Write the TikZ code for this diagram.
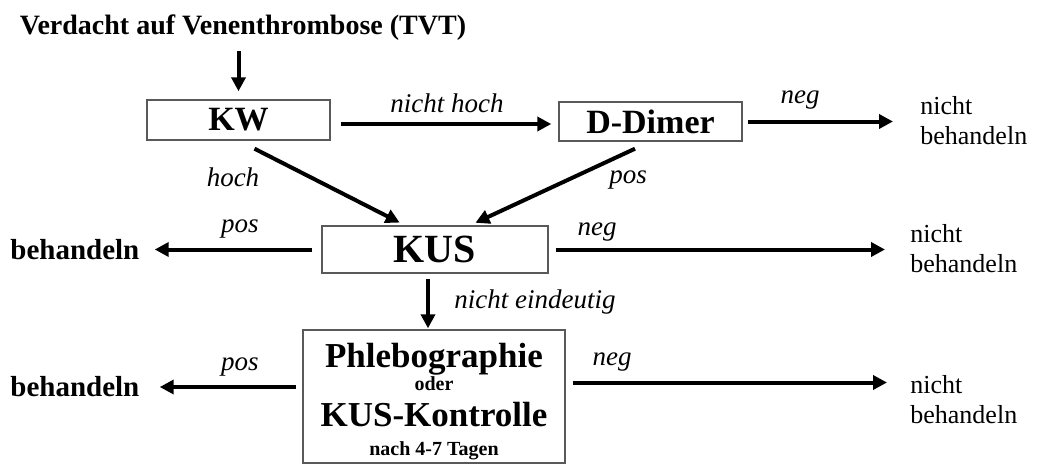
\documentclass[tikz,border=0pt]{standalone}
\usepackage{fontspec}
\setmainfont{Liberation Serif}
\usetikzlibrary{arrows.meta}
\begin{document}
\begin{tikzpicture}[x=0.5pt, y=-0.5pt,
  box/.style={draw=black!65, line width=0.7pt, inner sep=0pt, font=\bfseries\fontsize{17}{19}\selectfont},
  arr/.style={line width=2pt, -{Triangle[length=7pt,width=7pt]}},
  lbl/.style={font=\itshape\fontsize{13.5}{15}\selectfont, inner sep=0pt},
  nb/.style={font=\fontsize{13}{15}\selectfont, align=left, anchor=west, inner sep=0pt},
  bh/.style={font=\bfseries\fontsize{14.5}{16}\selectfont, anchor=west, inner sep=0pt}]
\useasboundingbox (0,0) rectangle (1040,466);
% boxes
\node[font=\bfseries\fontsize{14}{16}\selectfont] (tvt) at (243,28) {Verdacht auf Venenthrombose (TVT)};
\node[box, minimum width=91.5pt, minimum height=20pt] (kw) at (238.5,120) {KW};
\node[box, minimum width=91.5pt, minimum height=19.5pt] (dd) at (650.5,121.5) {D-Dimer};
\node[box, minimum width=113pt, minimum height=23.5pt, font=\bfseries\fontsize{20}{22}\selectfont] (kus) at (435,249.5) {KUS};
\node[box, minimum width=131pt, minimum height=66.5pt] (ph) at (434,396.5) {};
\node[anchor=base, inner sep=0pt, font=\bfseries\fontsize{17.5}{19}\selectfont] (ph1) at (434,367) {Phlebographie};
\node[anchor=base, inner sep=0pt, font=\bfseries\fontsize{10}{12}\selectfont] (ph2) at (434,390) {oder};
\node[anchor=base, inner sep=0pt, font=\bfseries\fontsize{17.5}{19}\selectfont] (ph3) at (434,426) {KUS-Kontrolle};
\node[anchor=base, inner sep=0pt, font=\bfseries\fontsize{10}{12}\selectfont] (ph4) at (434,455) {nach 4-7 Tagen};
% outcomes
\node[nb] (nb1) at (920,121) {nicht\\behandeln};
\node[nb] (nb2) at (910,249) {nicht\\behandeln};
\node[nb] (nb3) at (910,400) {nicht\\behandeln};
\node[bh] (b1) at (10,250) {behandeln};
\node[bh] (b2) at (10,387) {behandeln};
% arrows
\draw[arr, shorten <=1.5pt, shorten >=4pt] (tvt.south -| kw.north) -- (kw.north);
\draw[arr, shorten <=5pt, shorten >=3.5pt] ([yshift=-2pt]kw.east) -- ([yshift=-2pt]kw.east -| dd.west);
\draw[arr, shorten <=2.5pt, shorten >=13.5pt] (dd.east) -- (dd.east -| nb1.west);
\draw[arr, shorten >=3pt] ([xshift=8pt,yshift=-4pt]kw.south) -- ([xshift=-15pt]kus.north);
\draw[arr, shorten >=3pt] ([xshift=-7.75pt,yshift=-3.5pt]dd.south) -- ([xshift=17.5pt]kus.north);
\draw[arr, shorten <=4.5pt, shorten >=7.5pt] (kus.west) -- (kus.west -| b1.east);
\draw[arr, shorten <=3.5pt, shorten >=12.5pt] (kus.east) -- (kus.east -| nb2.west);
\draw[arr, shorten <=2.5pt, shorten >=0.5pt] ([xshift=-3pt]ph.north |- kus.south) -- ([xshift=-3pt]ph.north);
\draw[arr, shorten <=3pt, shorten >=10pt] (ph.west |- b2.east) -- (b2.east);
\draw[arr, shorten <=3.5pt, shorten >=11.5pt] ([yshift=7pt]ph.east) -- ([yshift=7pt]ph.east -| nb3.west);
% labels
\node[lbl] (l1) at (447,103) {nicht hoch};
\node[lbl] (l2) at (800,100) {neg};
\node[lbl] (l3) at (233,177) {hoch};
\node[lbl] (l4) at (628,180) {pos};
\node[lbl] (l5) at (240,229) {pos};
\node[lbl] (l6) at (597,232) {neg};
\node[lbl] (l7) at (535,302) {nicht eindeutig};
\node[lbl] (l8) at (240,367) {pos};
\node[lbl] (l9) at (612,362) {neg};
\end{tikzpicture}
\end{document}
